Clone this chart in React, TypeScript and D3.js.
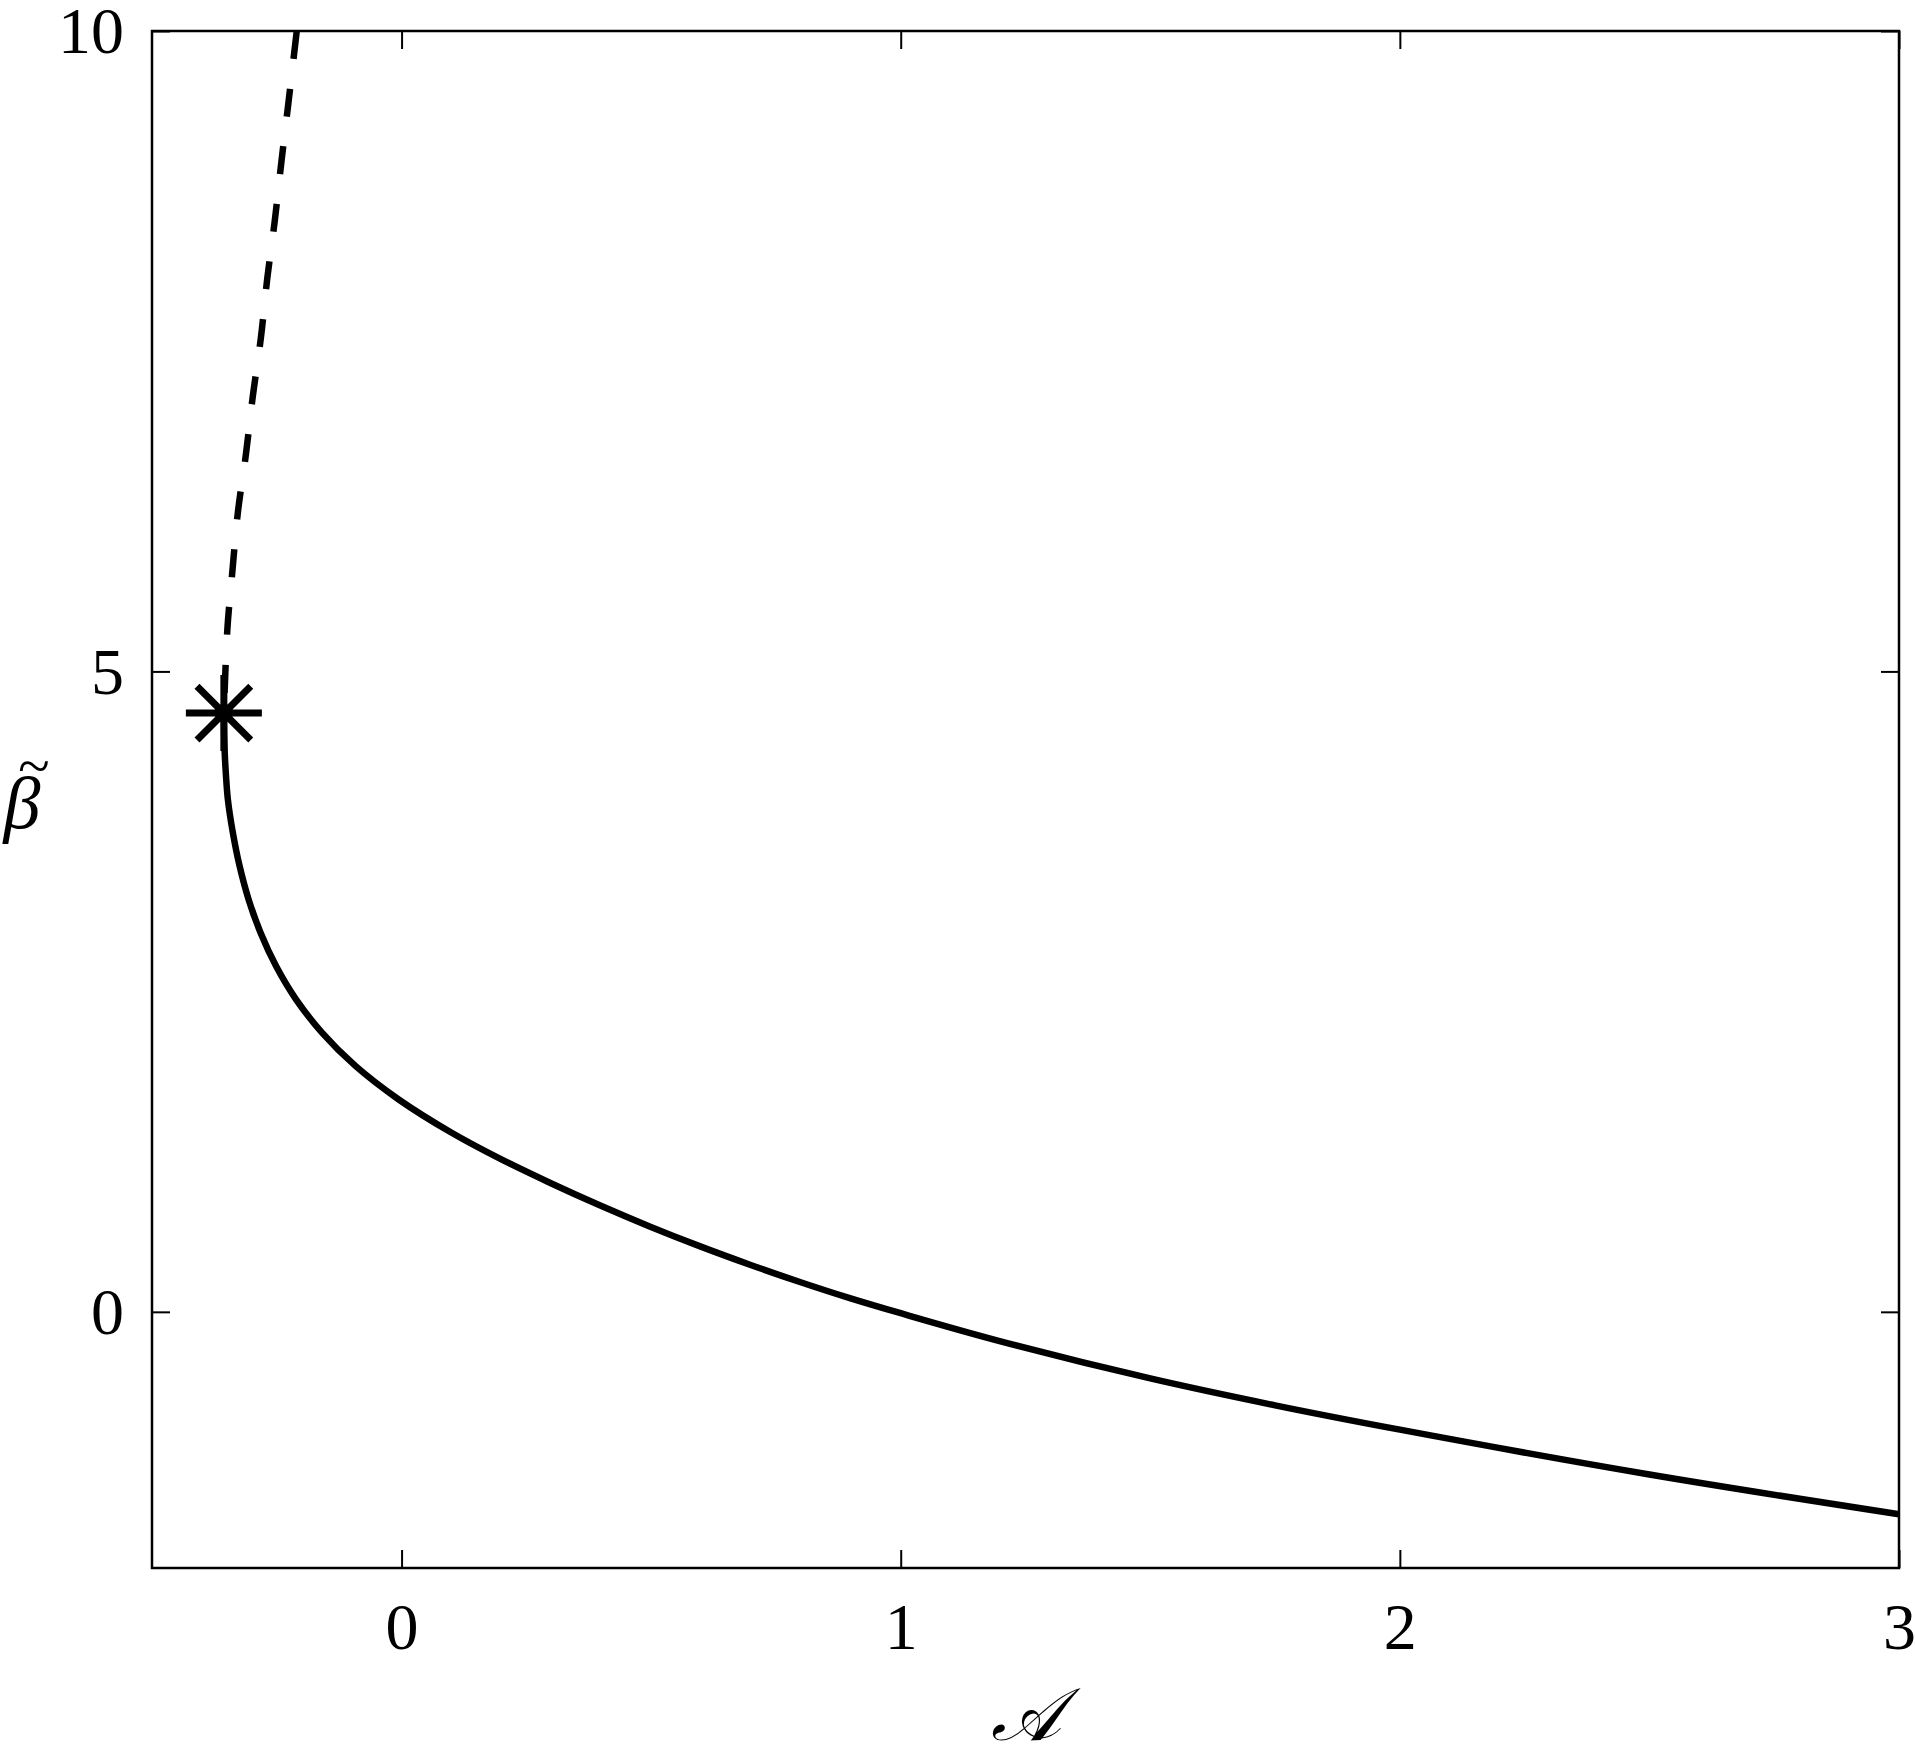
import React, { useEffect, useRef } from "react";
import * as d3 from "d3";

// solid branch (stable)
const solidA = [-0.356, -0.3557, -0.3546, -0.352, -0.348, -0.338, -0.3245, -0.3065, -0.2825, -0.2515, -0.2115, -0.1595, -0.0925, -0.0065, 0.0995, 0.197, 0.297, 0.397, 0.497, 0.597, 0.698, 0.798, 0.898, 1.0, 1.2, 1.5, 1.75, 2.0, 2.5, 3.0];
const solidBeta = [4.675, 4.55, 4.39, 4.2, 4.0, 3.74, 3.48, 3.22, 2.96, 2.7, 2.44, 2.18, 1.92, 1.66, 1.4, 1.196, 1.008, 0.832, 0.667, 0.513, 0.368, 0.233, 0.107, -0.011, -0.23, -0.52, -0.73, -0.92, -1.27, -1.58];

// dashed branch (unstable), from the top down to the fold
const dashedA = [-0.21, -0.227, -0.241, -0.254, -0.269, -0.282, -0.298, -0.312, -0.328, -0.339, -0.349, -0.356];
const dashedBeta = [10, 9.43, 8.97, 8.52, 8.07, 7.6, 7.15, 6.69, 6.24, 5.78, 5.33, 4.675];

// fold point marker
const foldA = -0.356;
const foldBeta = 4.675;

const xTicks = [0, 1, 2, 3];
const yTicks = [0, 5, 10];
const xLabel = "𝒜";
const yLabel = "β";
const yAccent = "~";

const W = 1915;
const H = 1756;

const App = () => {
  const svgRef = useRef<SVGSVGElement>(null);

  useEffect(() => {
    const margin = { top: 31, right: 16, bottom: 188, left: 152 };
    const width = W - margin.left - margin.right;
    const height = H - margin.top - margin.bottom;
    const svg = d3.select(svgRef.current);
    svg.selectAll("*").remove();

    const xScale = d3.scaleLinear().domain([-0.5, 3]).range([0, width]);
    const yScale = d3.scaleLinear().domain([-2, 10]).range([height, 0]);

    const chart = svg.append("g").attr("transform", `translate(${margin.left},${margin.top})`);
    const font = "'Liberation Serif', 'Times New Roman', serif";
    const tick = 18;

    // ticks on all four sides, pointing inward
    const bottom = chart.append("g").attr("transform", `translate(0,${height})`)
      .call(d3.axisBottom(xScale).tickValues(xTicks).tickSizeInner(-tick).tickSizeOuter(0).tickFormat(d3.format("d")));
    const top = chart.append("g")
      .call(d3.axisTop(xScale).tickValues(xTicks).tickSizeInner(-tick).tickSizeOuter(0).tickFormat(() => ""));
    const left = chart.append("g")
      .call(d3.axisLeft(yScale).tickValues(yTicks).tickSizeInner(-tick).tickSizeOuter(0).tickFormat(d3.format("d")));
    const right = chart.append("g").attr("transform", `translate(${width},0)`)
      .call(d3.axisRight(yScale).tickValues(yTicks).tickSizeInner(-tick).tickSizeOuter(0).tickFormat(() => ""));

    [bottom, top, left, right].forEach((g) => {
      g.select(".domain").remove();
      g.selectAll("line").attr("stroke", "#000").attr("stroke-width", 2);
    });

    bottom.selectAll("text")
      .attr("y", 81).attr("dy", 0)
      .attr("font-family", font).attr("font-size", 66).attr("fill", "#000");
    left.selectAll("text")
      .attr("x", -28).attr("dy", "0.33em")
      .attr("font-family", font).attr("font-size", 66).attr("fill", "#000");

    // frame
    chart.append("rect")
      .attr("width", width).attr("height", height)
      .attr("fill", "none").attr("stroke", "#000").attr("stroke-width", 2.5);

    const line = d3.line<[number, number]>()
      .x((d) => xScale(d[0]))
      .y((d) => yScale(d[1]))
      .curve(d3.curveCatmullRom);

    chart.append("path")
      .datum(solidA.map((a, i) => [a, solidBeta[i]] as [number, number]))
      .attr("d", line)
      .attr("fill", "none")
      .attr("stroke", "#000")
      .attr("stroke-width", 6.5);

    chart.append("path")
      .datum(dashedA.map((a, i) => [a, dashedBeta[i]] as [number, number]))
      .attr("d", line)
      .attr("fill", "none")
      .attr("stroke", "#000")
      .attr("stroke-width", 6.5)
      .attr("stroke-dasharray", "28,30");

    // asterisk marker at the fold
    const cx = xScale(foldA);
    const cy = yScale(foldBeta);
    const arm = 38;
    const d = arm * Math.SQRT1_2;
    chart.append("path")
      .attr("d", `M${cx - arm},${cy}H${cx + arm}M${cx},${cy - arm}V${cy + arm}M${cx - d},${cy - d}L${cx + d},${cy + d}M${cx - d},${cy + d}L${cx + d},${cy - d}`)
      .attr("fill", "none")
      .attr("stroke", "#000")
      .attr("stroke-width", 7);

    // axis labels
    svg.append("text")
      .attr("x", margin.left + width / 2)
      .attr("y", 1740)
      .attr("text-anchor", "middle")
      .attr("font-family", "'DejaVu Serif', 'Liberation Serif', serif")
      .attr("font-style", "italic")
      .attr("font-size", 74)
      .text(xLabel);

    const yl = svg.append("text")
      .attr("text-anchor", "middle")
      .attr("font-family", font);
    yl.append("tspan")
      .attr("x", 22).attr("y", 828)
      .attr("font-style", "italic")
      .attr("font-size", 74)
      .text(yLabel);
    yl.append("tspan")
      .attr("x", 34).attr("y", 785)
      .attr("font-size", 58)
      .text(yAccent);
  }, []);

  return (
    <svg
      ref={svgRef}
      width={W}
      height={H}
      style={{ position: "absolute", left: 0, top: 0, background: "#fff" }}
    ></svg>
  );
};

export default App;
